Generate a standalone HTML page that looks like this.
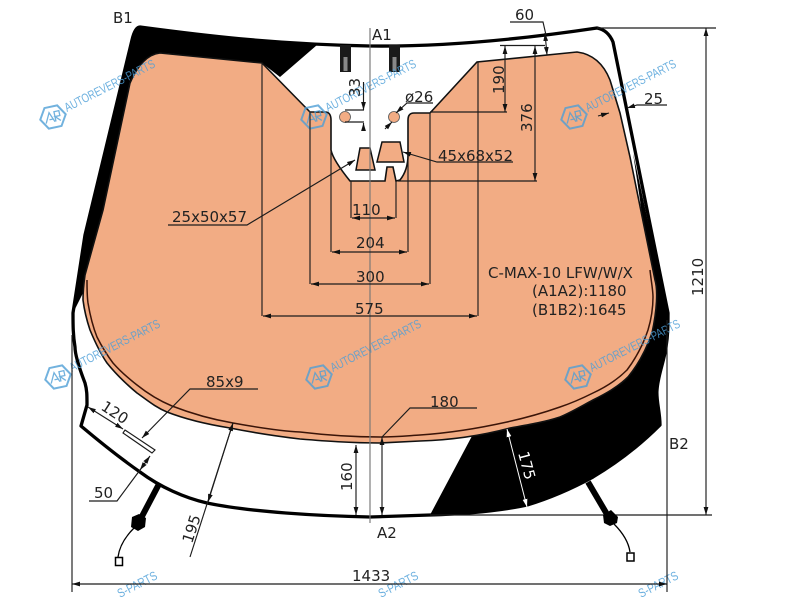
<!DOCTYPE html>
<html><head><meta charset="utf-8"><style>html,body{margin:0;padding:0;background:#fff;width:800px;height:600px;overflow:hidden}svg{display:block}
text{font-family:"DejaVu Sans",sans-serif;font-size:15px;fill:#222}
.wm{font-family:"Liberation Sans",sans-serif;font-size:12.5px;fill:#4c9fd8;fill-opacity:.82}</style></head><body>
<svg width="800" height="600" viewBox="0 0 800 600" xmlns="http://www.w3.org/2000/svg">
<defs>
<marker id="a" viewBox="0 0 10 6" refX="10" refY="3" markerWidth="8" markerHeight="5" orient="auto-start-reverse" markerUnits="userSpaceOnUse"><path d="M0 0L10 3L0 6Z" fill="#111"/></marker>
<marker id="w" viewBox="0 0 10 6" refX="10" refY="3" markerWidth="8" markerHeight="5" orient="auto-start-reverse" markerUnits="userSpaceOnUse"><path d="M0 0L10 3L0 6Z" fill="#fff"/></marker>
<g id="wm"><g opacity=".8" fill="none" stroke="#4f9fd6" transform="rotate(-12)"><path d="M-13 0L-6.500 -10.500L6.500 -10.500L13 0L6.500 10.500L-6.500 10.500Z" stroke-width="2"/><path d="M-8 5L-3 -5L1 5M-4 2L0 2M2 5L2 -5L7 -5L7 0L2 0L7 5" stroke-width="1.300"/></g><text class="wm" transform="translate(14,-5) rotate(-27)" textLength="100" lengthAdjust="spacingAndGlyphs">AUTOREVERS-PARTS</text></g>
</defs>
<rect width="800" height="600" fill="#fff"/>
<path d="M132 40Q135 27 143 27C200 35 260 42 317 45L280 77L262 63L165 53Q145 53 130 83L103 210L87 285L73 313L85 235Z" fill="#000"/>
<path d="M633 153L668 313C668 325 668 335 666 347C664 362 658 375 657 390C656 400 660 412 660 425Q630 455 593 477Q560 495 527 505Q490 513 430 515L472 436L560 405L640 340L650 280L640 200Z" fill="#000"/>
<path id="o" d="M262 63L310 112L325 112Q331 112 331 120L331 150Q333 160 350 181L385 181L387 167L393 167L396 181L400 180Q408 170 408 155L408 120Q408 113 414 113L430 113L477 62L577 52Q600 55 610 80L620 113L630 157L655 280C658 290 657 310 652 333C646 350 638 365 628 377C618 387 605 394 593 400C580 407 570 413 560 417C545 422 527 425 510 428C480 436 450 440 420 441L380 443C350 443 325 441 300 439C275 436 250 432 230 428C205 424 185 419 167 412C155 407 147 400 137 393C125 383 115 373 107 363C100 353 95 342 90 330C86 318 84 308 83 300C83 290 84 282 85 275L103 210L130 83Q142 55 160 53Z" fill="#f2ac84" stroke="#111" stroke-width="1.600"/>
<path d="M87 280C87 290 87 296 88 303C90 315 93 327 97 337C102 347 107 355 113 363C120 371 128 378 137 385C147 393 160 401 172 406C190 413 210 419 233 423C255 427 280 431 300 432C325 435 350 437 380 437C395 437 405 436 420 435C450 433 480 428 507 422C525 418 543 413 560 407C572 403 583 398 593 393C606 387 618 379 627 370C636 358 643 345 648 330C651 320 653 308 653 297C653 290 651 280 650 270" fill="none" stroke="#3a1408" stroke-width="1.500"/>
<path d="M140 27C200 35 270 44 370 46C450 47 530 38 597 28Q608 30 613 42L668 313C668 325 668 335 666 347C664 362 658 375 657 390C656 400 660 412 660 425Q630 455 593 477Q560 495 527 505Q490 513 430 515L370 517C320 516 250 512 207 503C185 498 160 487 140 472C120 458 100 442 81 426L87 405C87 395 87 390 85 383C80 370 75 355 75 347C73 335 73 325 73 313L85 235L132 40Q135 27 140 27Z" fill="none" stroke="#000" stroke-width="3.300" stroke-linejoin="round"/>
<rect x="340" y="45" width="11" height="27" fill="#1a1a1a"/><rect x="343.500" y="57" width="4" height="14" fill="#888"/>
<rect x="389" y="45" width="11" height="27" fill="#1a1a1a"/><rect x="392.500" y="57" width="4" height="14" fill="#888"/>
<path d="M360 148L370 148L375 170L356 170Z M382 142L400 142L404 162L377 162Z" fill="#f2ac84" stroke="#111" stroke-width="1.500"/>
<circle cx="345" cy="117" r="5.500" fill="#f2ac84" stroke="#555" stroke-width=".8"/><circle cx="394" cy="117" r="5.500" fill="#f2ac84" stroke="#555" stroke-width=".8"/>
<use href="#wm" x="53" y="117"/><use href="#wm" x="314" y="117"/><use href="#wm" x="574" y="117"/>
<use href="#wm" x="58" y="377"/><use href="#wm" x="319" y="377"/><use href="#wm" x="578" y="377"/>
<text class="wm" transform="translate(120,598) rotate(-27)" textLength="43" lengthAdjust="spacingAndGlyphs">S-PARTS</text>
<text class="wm" transform="translate(381,598) rotate(-27)" textLength="43" lengthAdjust="spacingAndGlyphs">S-PARTS</text>
<text class="wm" transform="translate(641,598) rotate(-27)" textLength="43" lengthAdjust="spacingAndGlyphs">S-PARTS</text>
<g fill="none" stroke="#1c1c1c" stroke-width="1.150">
<path d="M370 28V523" stroke="#777"/>
<path d="M262 63V316M478 62V316M310 112V284M430 113V284M331 120V252M408 120V252M351 181V218M396 181V218"/>
<path d="M263 316H477" marker-start="url(#a)" marker-end="url(#a)"/>
<path d="M311 284H429" marker-start="url(#a)" marker-end="url(#a)"/>
<path d="M332 252H407" marker-start="url(#a)" marker-end="url(#a)"/>
<path d="M352 218H395" marker-start="url(#a)" marker-end="url(#a)"/>
<path d="M430 112H507M500 45.500H545M398 181H537"/>
<path d="M505 46V112" marker-start="url(#a)" marker-end="url(#a)"/>
<path d="M535 46V181" marker-start="url(#a)" marker-end="url(#a)"/>
<path d="M706 28V515" marker-start="url(#a)" marker-end="url(#a)"/>
<path d="M356 445V515" marker-start="url(#a)" marker-end="url(#a)"/>
<path d="M382 437V515" marker-start="url(#a)" marker-end="url(#a)"/>
<path d="M597 28H716M430 515H712M72 335V592M667 320V592"/>
<path d="M72 584H667" marker-start="url(#a)" marker-end="url(#a)"/>
<path d="M510 22H543L546 35"/><path d="M545 33L547 55" marker-start="url(#a)" marker-end="url(#a)"/>
<path d="M667 105H637L627 108" marker-end="url(#a)"/><path d="M598 116L609 113" marker-end="url(#a)"/>
<path d="M382 437L410 408H477"/>
<path d="M168 225H247L355 160" marker-end="url(#a)"/>
<path d="M513 162H437L403 152" marker-end="url(#a)"/>
<path d="M345 110H364M345 122H364"/>
<path d="M363.500 82V110" marker-end="url(#a)"/><path d="M363.500 131V123" marker-end="url(#a)"/>
<path d="M433 103H407L396 113" marker-end="url(#a)"/><path d="M385 129L392 122" marker-end="url(#a)"/>
<path d="M258 389H190L142 438" marker-end="url(#a)"/>
<path d="M88 407L123 429" marker-start="url(#a)" marker-end="url(#a)"/>
<path d="M125 430L155 450L152 453L123 433Z"/>
<path d="M89 501H117L140 470"/><path d="M140 470L150 456" marker-start="url(#a)" marker-end="url(#a)"/>
<path d="M233 423L190 557"/><path d="M208 502L233 423" marker-start="url(#a)" marker-end="url(#a)"/>
</g>
<path d="M507 429L527 507" stroke="#fff" stroke-width="1" marker-start="url(#w)" marker-end="url(#w)"/>
<path d="M159 484L139 522" stroke="#000" stroke-width="6"/><path d="M132 517L139 514L146 518L145 527L138 531L131 527Z" fill="#000"/>
<path d="M134 528Q120 542 118 557" stroke="#000" stroke-width="1.300" fill="none"/><rect x="115.500" y="557.500" width="7" height="8" fill="none" stroke="#000" stroke-width="1.500"/>
<path d="M588 482L608 516" stroke="#000" stroke-width="6"/><path d="M603 515L611 510L618 517L617 523L610 526L604 523Z" fill="#000"/>
<path d="M614 524Q628 538 630 552" stroke="#000" stroke-width="1.300" fill="none"/><rect x="627" y="553" width="7" height="8" fill="none" stroke="#000" stroke-width="1.500"/>
<text x="113" y="23">B1</text><text x="372" y="40">A1</text><text x="669" y="449">B2</text><text x="377" y="538">A2</text>
<text x="515" y="20">60</text><text x="644" y="104">25</text><text x="405" y="102">ø26</text>
<text x="438" y="161">45x68x52</text><text x="172" y="222">25x50x57</text>
<text x="352" y="215">110</text><text x="356" y="248">204</text><text x="356" y="282">300</text><text x="355" y="314">575</text>
<text x="206" y="387">85x9</text><text x="430" y="407">180</text><text x="94" y="498">50</text><text x="352" y="581">1433</text>
<text x="488" y="278">C-MAX-10 LFW/W/X</text><text x="532" y="296">(A1A2):1180</text><text x="532" y="315">(B1B2):1645</text>
<text transform="translate(360,97) rotate(-90)">33</text><text transform="translate(504,94) rotate(-90)">190</text><text transform="translate(532,132) rotate(-90)">376</text><text transform="translate(703,296) rotate(-90)">1210</text><text transform="translate(352,491) rotate(-90)">160</text>
<text transform="translate(192,544) rotate(-72)">195</text><text transform="translate(100,409) rotate(33)">120</text>
<text transform="translate(518,453) rotate(75)" style="fill:#fff">175</text>
</svg></body></html>
